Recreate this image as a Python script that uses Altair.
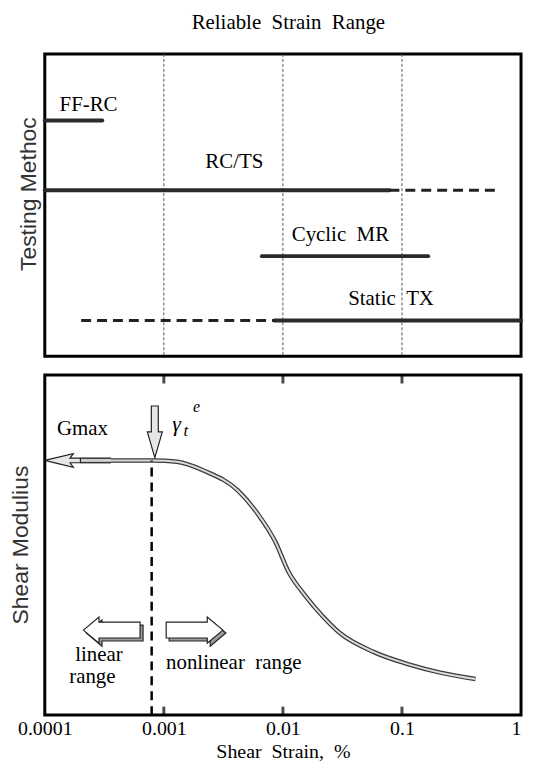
import altair as alt
import pandas as pd

# ---------------- data ----------------
# top panel: reliable strain range of each testing method
seg_method = ["FF-RC", "RC/TS", "RC/TS", "Cyclic MR", "Static TX", "Static TX"]
seg_start = [0.0001, 0.0001, 0.0785, 0.00666, 0.000202, 0.0085]
seg_end = [0.000304, 0.0785, 0.656, 0.166, 0.0085, 1.0]
seg_level = [7.8, 5.49, 5.49, 3.31, 1.18, 1.18]
seg_style = ["solid", "solid", "dashed", "solid", "dashed", "solid"]

method_label = ["FF-RC", "RC/TS", "Cyclic\u2002MR", "Static\u2002TX"]
method_label_x = [0.000233, 0.00391, 0.0304, 0.081]
method_label_y = [8.32, 6.41, 4.01, 1.875]

grid_x = [0.001, 0.01, 0.1]

# bottom panel: shear modulus degradation curve
strain = [0.00036, 0.00082, 0.00129, 0.0022, 0.0042, 0.0062, 0.0086, 0.0112,
          0.0155, 0.0214, 0.0299, 0.0575, 0.112, 0.215, 0.415]
modulus = [0.749, 0.749, 0.745, 0.718, 0.660, 0.590, 0.511, 0.420,
           0.350, 0.292, 0.242, 0.186, 0.150, 0.124, 0.106]
shaft_x = [0.0002, 0.00036]
shaft_y = [0.749, 0.749]
gmax_level = 0.749
threshold_strain = 0.00079

tick_x = [0.001, 0.01, 0.1]
axis_values = [0.0001, 0.001, 0.01, 0.1, 1]

ann_text = ["Gmax", "linear", "range", "nonlinear\u2002range"]
ann_x = [0.000207, 0.000285, 0.000251, 0.00387]
ann_y = [0.842, 0.178, 0.111, 0.152]

gamma_text = ["\u03b3", "t", "e"]
gamma_x = [0.00128, 0.00153, 0.00188]
gamma_y = [0.857, 0.836, 0.906]
gamma_size = [22, 17, 16]

# arrows: name, x, y
arrow_name = ["gmax", "down", "left", "right"]
arrow_x = [0.000141, 0.00084, 0.000365, 0.00181]
arrow_y = [0.749, 0.833, 0.25, 0.25]

SERIF = "Liberation Serif"
SANS = "Liberation Sans"

TOP_W, TOP_H = 479, 304
BOT_W, BOT_H = 479, 342

xscale = alt.Scale(type="log", domain=[0.0001, 1])

# ---------------- top panel ----------------
seg_df = pd.DataFrame({"method": seg_method, "start": seg_start, "end": seg_end,
                       "level": seg_level, "style": seg_style})
lab_df = pd.DataFrame({"label": method_label, "x": method_label_x, "y": method_label_y})
grid_df = pd.DataFrame({"x": grid_x})

ytop = alt.Scale(domain=[0, 10])

grid = alt.Chart(grid_df).mark_rule(color="#555", strokeWidth=1, strokeDash=[3, 2]).encode(
    x=alt.X("x:Q", scale=xscale, axis=None)
)
solid = alt.Chart(seg_df).transform_filter("datum.style == 'solid'").mark_rule(
    color="#2a2a2a", strokeWidth=4, strokeCap="round"
).encode(
    x=alt.X("start:Q", scale=xscale, axis=None), x2="end:Q",
    y=alt.Y("level:Q", scale=ytop, axis=None)
)
dashed = alt.Chart(seg_df).transform_filter("datum.style == 'dashed'").mark_rule(
    color="#222", strokeWidth=3, strokeDash=[10, 6]
).encode(
    x=alt.X("start:Q", scale=xscale, axis=None), x2="end:Q",
    y=alt.Y("level:Q", scale=ytop, axis=None)
)
labels = alt.Chart(lab_df).mark_text(font=SERIF, fontSize=21, color="black").encode(
    x=alt.X("x:Q", scale=xscale, axis=None),
    y=alt.Y("y:Q", scale=ytop, axis=None),
    text="label:N"
)
top_title = alt.Chart(pd.DataFrame({"t": ["Reliable\u2002Strain\u2002Range"]})).mark_text(
    font=SERIF, fontSize=21, color="black"
).encode(x=alt.value(245), y=alt.value(-31), text="t:N")
top_ytitle = alt.Chart(pd.DataFrame({"t": ["Testing Methoc"]})).mark_text(
    font=SANS, fontSize=23, color="#333", angle=270
).encode(x=alt.value(-16), y=alt.value(141), text="t:N")

top = alt.layer(grid, solid, dashed, labels, top_title, top_ytitle).properties(
    width=TOP_W, height=TOP_H
)

# ---------------- bottom panel ----------------
curve_df = pd.DataFrame({"strain": strain, "G": modulus})
shaft_df = pd.DataFrame({"strain": shaft_x, "G": shaft_y})
ybot = alt.Scale(domain=[0, 1])

xaxis = alt.Axis(
    values=axis_values, format="~g", ticks=False, domain=False, grid=False,
    labelFont=SERIF, labelFontSize=20, labelColor="black", labelPadding=4,
    labelFlush=False, labelOverlap=False,
    labelAlign=alt.condition("datum.value >= 1", alt.value("right"), alt.value("center")),
    title="Shear\u2002Strain,\u2002%", titleFont=SERIF, titleFontSize=20,
    titleFontWeight="normal", titleColor="black", titlePadding=3
)

curve_outer = alt.Chart(curve_df).mark_line(color="#3a3a3a", strokeWidth=4.5,
                                            interpolate="monotone").encode(
    x=alt.X("strain:Q", scale=xscale, axis=xaxis),
    y=alt.Y("G:Q", scale=ybot, axis=None)
)
curve_inner = alt.Chart(curve_df).mark_line(color="#dcdcdc", strokeWidth=2,
                                            interpolate="monotone").encode(
    x=alt.X("strain:Q", scale=xscale), y=alt.Y("G:Q", scale=ybot)
)
shaft_outer = alt.Chart(shaft_df).mark_line(color="#333", strokeWidth=6).encode(
    x=alt.X("strain:Q", scale=xscale), y=alt.Y("G:Q", scale=ybot)
)
shaft_inner = alt.Chart(shaft_df).mark_line(color="#cfcfcf", strokeWidth=3).encode(
    x=alt.X("strain:Q", scale=xscale), y=alt.Y("G:Q", scale=ybot)
)
thr = alt.Chart(pd.DataFrame({"x": [threshold_strain], "y": [0.0], "y2": [gmax_level]})).mark_rule(
    color="black", strokeWidth=2.5, strokeDash=[9, 6]
).encode(x=alt.X("x:Q", scale=xscale), y=alt.Y("y:Q", scale=ybot), y2="y2:Q")

tick_df = pd.DataFrame({"x": tick_x})
ticks_top = alt.Chart(tick_df).mark_tick(orient="vertical", size=9, thickness=3, color="black").encode(
    x=alt.X("x:Q", scale=xscale), y=alt.value(4)
)
ticks_bot = alt.Chart(tick_df).mark_tick(orient="vertical", size=9, thickness=3, color="black").encode(
    x=alt.X("x:Q", scale=xscale), y=alt.value(BOT_H - 4)
)

arr_df = pd.DataFrame({"name": arrow_name, "x": arrow_x, "y": arrow_y})

GMAX_SHAPE = "M-1,0 L0.6,-0.38 L0.42,-0.13 L1,-0.13 L1,0.13 L0.42,0.13 L0.6,0.38 Z"
DOWN_SHAPE = "M-0.135,-1 L0.135,-1 L0.135,0 L0.29,0 L0,1 L-0.29,0 L-0.135,0 Z"
LEFT_SHAPE = "M-1,0 L-0.45,-0.46 L-0.45,-0.28 L1,-0.28 L1,0.28 L-0.45,0.28 L-0.45,0.46 Z"
RIGHT_SHAPE = "M1,0 L0.45,-0.46 L0.45,-0.28 L-1,-0.28 L-1,0.28 L0.45,0.28 L0.45,0.46 Z"


def arrow(name, shape, size, fill, dx=0, dy=0):
    return alt.Chart(arr_df).transform_filter(f"datum.name == '{name}'").mark_point(
        shape=shape, size=size, filled=True, fill=fill, stroke="#222",
        strokeWidth=1.2, opacity=1, xOffset=dx, yOffset=dy
    ).encode(x=alt.X("x:Q", scale=xscale), y=alt.Y("y:Q", scale=ybot))


arrows = [
    arrow("gmax", GMAX_SHAPE, 1296, "#e6e6e6"),
    arrow("down", DOWN_SHAPE, 2704, "#e6e6e6"),
    arrow("left", LEFT_SHAPE, 3249, "#9a9a9a", 3, 3),
    arrow("left", LEFT_SHAPE, 3249, "white"),
    arrow("right", RIGHT_SHAPE, 3249, "#9a9a9a", 3, 3),
    arrow("right", RIGHT_SHAPE, 3249, "white"),
]

ann_df = pd.DataFrame({"t": ann_text, "x": ann_x, "y": ann_y})
ann = alt.Chart(ann_df).mark_text(font=SERIF, fontSize=21, color="black").encode(
    x=alt.X("x:Q", scale=xscale), y=alt.Y("y:Q", scale=ybot), text="t:N"
)
gam_df = pd.DataFrame({"t": gamma_text, "x": gamma_x, "y": gamma_y, "s": gamma_size})
gam = alt.Chart(gam_df).mark_text(font=SERIF, fontStyle="italic", color="black").encode(
    x=alt.X("x:Q", scale=xscale), y=alt.Y("y:Q", scale=ybot), text="t:N",
    size=alt.Size("s:Q", scale=None, legend=None)
)
bot_ytitle = alt.Chart(pd.DataFrame({"t": ["Shear Modulius"]})).mark_text(
    font=SANS, fontSize=23, color="#333", angle=270
).encode(x=alt.value(-24), y=alt.value(171), text="t:N")

bottom = alt.layer(
    curve_outer, curve_inner, shaft_outer, shaft_inner, thr, ticks_top, ticks_bot,
    *arrows, ann, gam, bot_ytitle
).properties(width=BOT_W, height=BOT_H)

chart = alt.vconcat(top, bottom, spacing=19, bounds="flush").properties(
    padding={"left": 0, "top": 0, "right": 0, "bottom": 0}
).configure_view(stroke="black", strokeWidth=3)

chart.save("out.html", embed_options={"renderer": "svg", "actions": False})
